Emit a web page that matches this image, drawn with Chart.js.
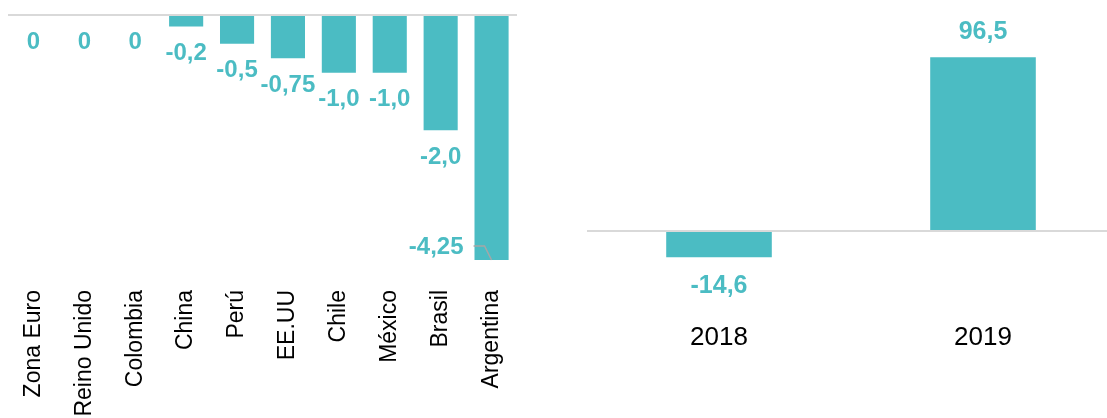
<!DOCTYPE html>
<html>
<head>
<meta charset="utf-8">
<script src="https://cdn.jsdelivr.net/npm/chart.js@4"></script>
<style>
  html, body { margin: 0; padding: 0; background: #fff; overflow: hidden; width: 1107px; height: 418px; }
  #left { position: absolute; left: 0; top: 0; }
  #right { position: absolute; left: 587px; top: 0; }
</style>
</head>
<body>
<canvas id="left" width="520" height="418"></canvas>
<canvas id="right" width="528" height="418"></canvas>
<script>
const countries = ['Zona Euro', 'Reino Unido', 'Colombia', 'China', 'Perú', 'EE.UU', 'Chile', 'México', 'Brasil', 'Argentina'];
const countryValues = [0, 0, 0, -0.2, -0.5, -0.75, -1.0, -1.0, -2.0, -4.25];
const years = ['2018', '2019'];
const yearValues = [-14.6, 96.5];

const teal = '#4BBCC3';
const font = 'Liberation Sans, Arial, sans-serif';

function fmt(v) {
  if (v === 0) return '0';
  const dec = (String(v).split('.')[1] || '').length;
  return v.toFixed(Math.max(1, dec)).replace('.', ',');
}

// value labels under / over bar ends, Excel style
const barLabels = {
  id: 'barLabels',
  afterDatasetsDraw(chart, args, opts) {
    const ctx = chart.ctx;
    const area = chart.chartArea;
    const data = chart.data.datasets[0].data;
    ctx.save();
    ctx.font = 'bold ' + opts.size + 'px ' + font;
    ctx.fillStyle = teal;
    ctx.textBaseline = 'middle';
    chart.getDatasetMeta(0).data.forEach((bar, i) => {
      const v = data[i];
      const text = fmt(v);
      if (v > 0) {
        ctx.textAlign = 'center';
        ctx.fillText(text, bar.x, bar.y - opts.above);
        return;
      }
      const y = bar.y + opts.below;
      if (opts.side && y > area.bottom) {
        // no room below: put it left of the bar with a leader line
        ctx.textAlign = 'right';
        ctx.fillText(text, bar.x - 28, bar.y - 13);
        ctx.strokeStyle = '#a6a6a6';
        ctx.lineWidth = 1.5;
        ctx.beginPath();
        ctx.moveTo(bar.x - 18, bar.y - 14);
        ctx.lineTo(bar.x - 7, bar.y - 14);
        ctx.lineTo(bar.x, bar.y);
        ctx.stroke();
      } else {
        ctx.textAlign = 'center';
        ctx.fillText(text, bar.x, y);
      }
    });
    ctx.restore();
  }
};

function zeroLine(c) {
  return c.tick.value === 0 ? '#d9d9d9' : 'rgba(0,0,0,0)';
}

function noPad(s, h) {
  s.height = h;
  s.paddingLeft = 0;
  s.paddingRight = 0;
}

new Chart(document.getElementById('left'), {
  type: 'bar',
  data: {
    labels: countries,
    datasets: [{
      data: countryValues,
      backgroundColor: teal,
      barPercentage: 0.67,
      categoryPercentage: 1
    }]
  },
  options: {
    responsive: false,
    animation: false,
    layout: { padding: { top: 15, left: 8, right: 3, bottom: 0 } },
    plugins: {
      legend: { display: false },
      tooltip: { enabled: false },
      barLabels: { size: 24, below: 27, above: 26, side: true }
    },
    scales: {
      x: {
        grid: { display: false, drawTicks: false },
        border: { display: false },
        ticks: {
          color: '#000',
          font: { family: font, size: 23 },
          maxRotation: 90,
          minRotation: 90,
          autoSkip: false,
          padding: 30
        },
        afterFit(s) { noPad(s, 158); }
      },
      y: {
        min: -4.25,
        max: 0,
        grid: { color: zeroLine, lineWidth: 2, drawTicks: false },
        border: { display: false },
        ticks: { display: false },
        afterFit(s) { s.width = 0; }
      }
    }
  },
  plugins: [barLabels]
});

new Chart(document.getElementById('right'), {
  type: 'bar',
  data: {
    labels: years,
    datasets: [{
      data: yearValues,
      backgroundColor: teal,
      barPercentage: 0.4,
      categoryPercentage: 1
    }]
  },
  options: {
    responsive: false,
    animation: false,
    layout: { padding: { top: 51, left: 0, right: 0, bottom: 0 } },
    plugins: {
      legend: { display: false },
      tooltip: { enabled: false },
      barLabels: { size: 25, below: 29, above: 25, side: false }
    },
    scales: {
      x: {
        grid: { display: false, drawTicks: false },
        border: { display: false },
        ticks: {
          color: '#000',
          font: { family: font, size: 26 },
          maxRotation: 0,
          padding: 55
        },
        afterFit(s) { noPad(s, 151); }
      },
      y: {
        min: -20,
        max: 100,
        ticks: { display: false, stepSize: 20 },
        grid: { color: zeroLine, lineWidth: 2, drawTicks: false },
        border: { display: false },
        afterFit(s) { s.width = 0; }
      }
    }
  },
  plugins: [barLabels]
});
</script>
</body>
</html>
